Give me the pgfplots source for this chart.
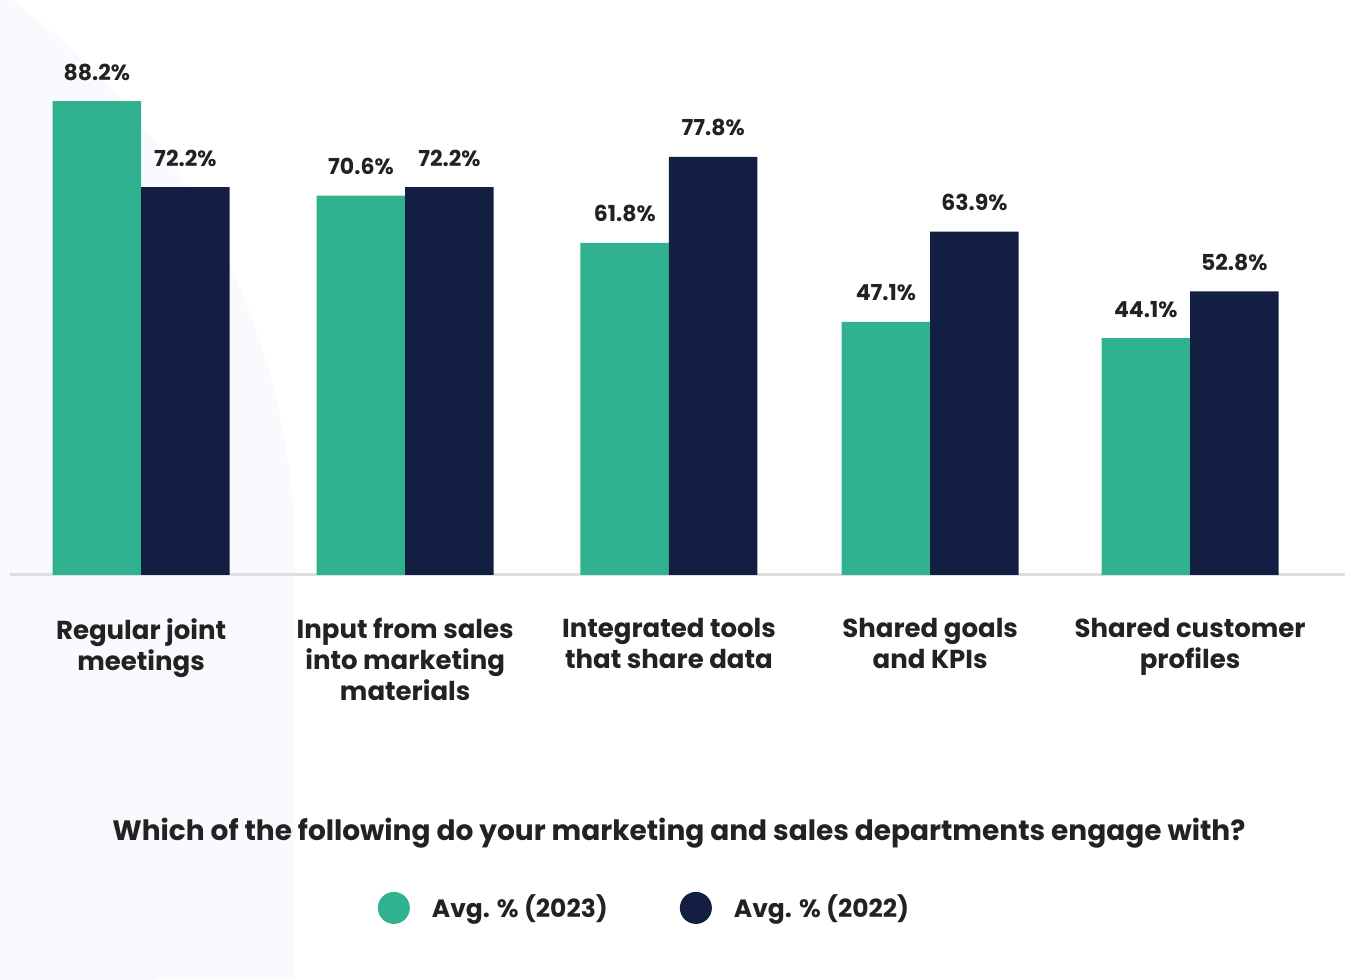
\documentclass[border=0pt]{standalone}
\usepackage{pgfplots}
\pgfplotsset{compat=1.18}
\usepackage{fontspec}
\setmainfont{Poppins}
\definecolor{teal23}{HTML}{30B18F}
\definecolor{navy22}{HTML}{131F42}
\definecolor{txt}{HTML}{222222}
\definecolor{bgc}{HTML}{F9FAFD}
\definecolor{axc}{HTML}{DEDEDE}
\begin{document}
\begin{tikzpicture}
\begin{scope}[x=0.5pt,y=-0.5pt,yshift=489.5pt]
\path[use as bounding box] (0,0) rectangle (1364,979);
\begin{scope}
\clip (0,0) rectangle (295,979);
\fill[bgc] (-400,560) circle (695);
\fill[bgc] (0,560) rectangle (295,979);
\end{scope}
\end{scope}
\begin{axis}[
 at={(5pt,202pt)}, anchor=south west,
 scale only axis, width=667.5pt, height=287.5pt,
 xmin=-0.5, xmax=4.591, ymin=0, ymax=107,
 ybar=0pt, bar width=44.25pt,
 axis x line=bottom, axis y line=none,
 x axis line style={-, draw=axc, line width=1.5pt},
 xtick=data, major tick length=0pt,
 xticklabels={{Regular joint\\meetings},{Input from sales\\into marketing\\materials},{Integrated tools\\that share data},{Shared goals\\and KPIs},{Shared customer\\profiles}},
 xticklabel style={anchor=north, yshift=-21.5pt, inner sep=0pt, align=center, text=txt, font=\fontsize{13pt}{15.5pt}\selectfont\bfseries},
 clip=false,
 /pgf/number format/assume math mode=true,
 nodes near coords={\pgfmathprintnumber[fixed,fixed zerofill,precision=1]{\pgfplotspointmeta}\%},
 every node near coord/.append style={font=\fontsize{11pt}{13pt}\selectfont\bfseries, text=txt, anchor=base, inner sep=0pt, yshift=10.5pt},
 legend style={at={(0.476,-0.579)}, anchor=center, draw=none, fill=none, font=\fontsize{12.5pt}{15pt}\selectfont\bfseries, text=txt, legend columns=2, /tikz/every even column/.append style={column sep=34pt}},
]
\addplot[fill=teal23, draw=none, legend image code/.code={\fill[teal23] (0pt,0pt) circle (8pt); \path[fill=none,draw=none] (-8pt,-8pt) rectangle (17pt,8pt);}] coordinates {(0,88.2) (1.007,70.6) (2.013,61.8) (3.009,47.1) (4,44.1)};
\addlegendentry{Avg. \% (2023)}
\addplot[fill=navy22, draw=none, legend image code/.code={\fill[navy22] (0pt,0pt) circle (8pt); \path[fill=none,draw=none] (-8pt,-8pt) rectangle (17pt,8pt);}] coordinates {(0,72.2) (1.007,72.2) (2.013,77.8) (3.009,63.9) (4,52.8)};
\addlegendentry{Avg. \% (2022)}
\node[anchor=base, font=\fontsize{14pt}{17pt}\selectfont\bfseries, text=txt] at (axis description cs:0.501,-0.4609) {Which of the following do your marketing and sales departments engage with?};
\end{axis}
\end{tikzpicture}
\end{document}
